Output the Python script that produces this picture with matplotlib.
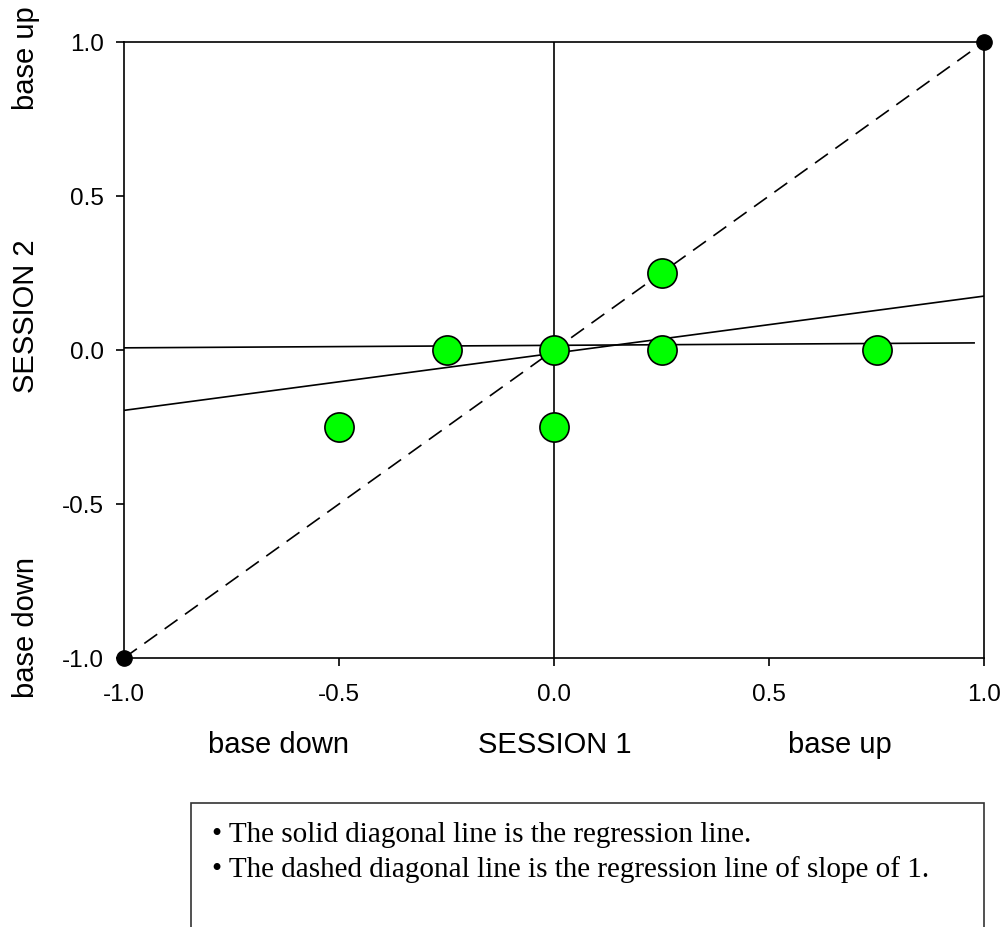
import matplotlib
matplotlib.use("Agg")
import matplotlib.pyplot as plt
from matplotlib.patches import Rectangle

# ---- data ----
session1 = [-0.5, -0.25, 0.0, 0.0, 0.25, 0.25, 0.75]
session2 = [-0.25, 0.0, 0.0, -0.25, 0.25, 0.0, 0.0]
endpoints_x = [-1.0, 1.0]
endpoints_y = [-1.0, 1.0]
regression_x = [-1.0, 1.0]
regression_y = [-0.196, 0.175]
flat_x = [-1.0, 0.977]
flat_y = [0.007, 0.023]
zero_x = [0.0, 0.0]
zero_y = [-1.0, 1.0]
ticks = [-1.0, -0.5, 0.0, 0.5, 1.0]
tick_labels = ["-1.0", "-0.5", "0.0", "0.5", "1.0"]
notes = ["• The solid diagonal line is the regression line.",
         "• The dashed diagonal line is the regression line of slope of 1."]

plt.rcParams['font.family'] = ['Liberation Sans', 'DejaVu Sans']

W, H = 1006, 928
fig = plt.figure(figsize=(W / 100, H / 100), dpi=100)
ax = fig.add_axes([124 / W, 1 - 659 / H, (984 - 124) / W, (659 - 43) / H])

lw = 1.2
ax.plot(endpoints_x, endpoints_y, color='black', lw=lw, dashes=(9.5, 5.5), zorder=2)
ax.plot(regression_x, regression_y, color='black', lw=lw, zorder=2)
ax.plot(flat_x, flat_y, color='black', lw=lw, zorder=2)
ax.plot(zero_x, zero_y, color='black', lw=lw, zorder=2)
ax.plot(session1, session2, 'o', ms=21, mfc='#00ff00', mec='black', mew=1.2,
        zorder=3, linestyle='none')
ax.plot(endpoints_x, endpoints_y, 'o', ms=11, color='black', zorder=4,
        linestyle='none', clip_on=False)

ax.set_xlim(-1, 1)
ax.set_ylim(-1, 1)
ax.set_xticks(ticks)
ax.set_xticklabels(tick_labels)
ax.set_yticks(ticks)
ax.set_yticklabels(tick_labels)
ax.tick_params(direction='out', length=5.8, width=1.2, labelsize=17.5)
ax.tick_params(axis='x', pad=12)
ax.tick_params(axis='y', pad=8.5)
for s in ax.spines.values():
    s.set_linewidth(1.2)

# axis labels
lab = 21
fig.text(26 / W, 1 - 316 / H, "SESSION 2", rotation=90, ha='center', va='center', fontsize=lab)
fig.text(26 / W, 1 - 58 / H, "base up", rotation=90, ha='center', va='center', fontsize=lab)
fig.text(26 / W, 1 - 628 / H, "base down", rotation=90, ha='center', va='center', fontsize=lab)
fig.text(278 / W, 1 - 745 / H, "base down", ha='center', va='center', fontsize=lab)
fig.text(555 / W, 1 - 745 / H, "SESSION 1", ha='center', va='center', fontsize=lab)
fig.text(840 / W, 1 - 745 / H, "base up", ha='center', va='center', fontsize=lab)

# note box
fig.patches.append(Rectangle((191 / W, -0.05), (984 - 191) / W, (1 - 804 / H) + 0.05,
                             transform=fig.transFigure, fill=False,
                             edgecolor='#333333', lw=1.2))
for i, line in enumerate(notes):
    fig.text(212 / W, 1 - (842 + 35 * i) / H, line, ha='left', va='baseline',
             fontsize=21, family=['Liberation Serif', 'DejaVu Serif'])

fig.savefig("out.png", dpi=100)
